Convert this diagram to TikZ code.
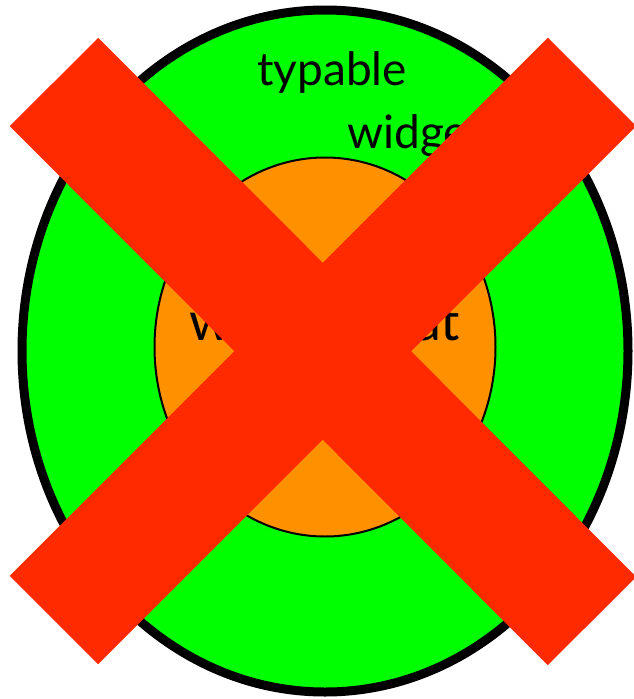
\documentclass[tikz,border=0pt]{standalone}
\usepackage{fontspec}
\setmainfont{Lato}
\usepackage{tikz}
\definecolor{ringgreen}{RGB}{0,255,0}
\definecolor{coreorange}{RGB}{255,145,0}
\definecolor{crossred}{RGB}{255,42,0}
\tikzset{
    outer/.style = {draw=black, line width=9pt, fill=ringgreen},
    inner/.style = {draw=black, line width=2pt, fill=coreorange},
    word/.style = {inner sep=0pt, font=\fontsize{46}{50}\selectfont},
    bar/.style = {line width=125pt, crossred, line cap=butt}
}
\begin{document}
\begin{tikzpicture}[x=1pt, y=-1pt]
\useasboundingbox (0,0) rectangle (634,699);

\draw [outer] (325,351) ellipse [x radius=303, y radius=341];
\draw [inner] (325,347) ellipse [x radius=170.5, y radius=189.5];

\node (typable) [word, anchor=base west] at (257,85) {typable};
\node (widget) [word, anchor=base west] at (347,148) {widget};
\node (what) [word, anchor=base, font=\fontsize{54}{58}\selectfont] at (325,340) {widget that};

\coordinate (tl) at (54,82);
\coordinate (br) at (592,621);
\coordinate (tr) at (592,82);
\coordinate (bl) at (54,620);
\draw [bar] (tl) -- (br);
\draw [bar] (tr) -- (bl);
\end{tikzpicture}
\end{document}
